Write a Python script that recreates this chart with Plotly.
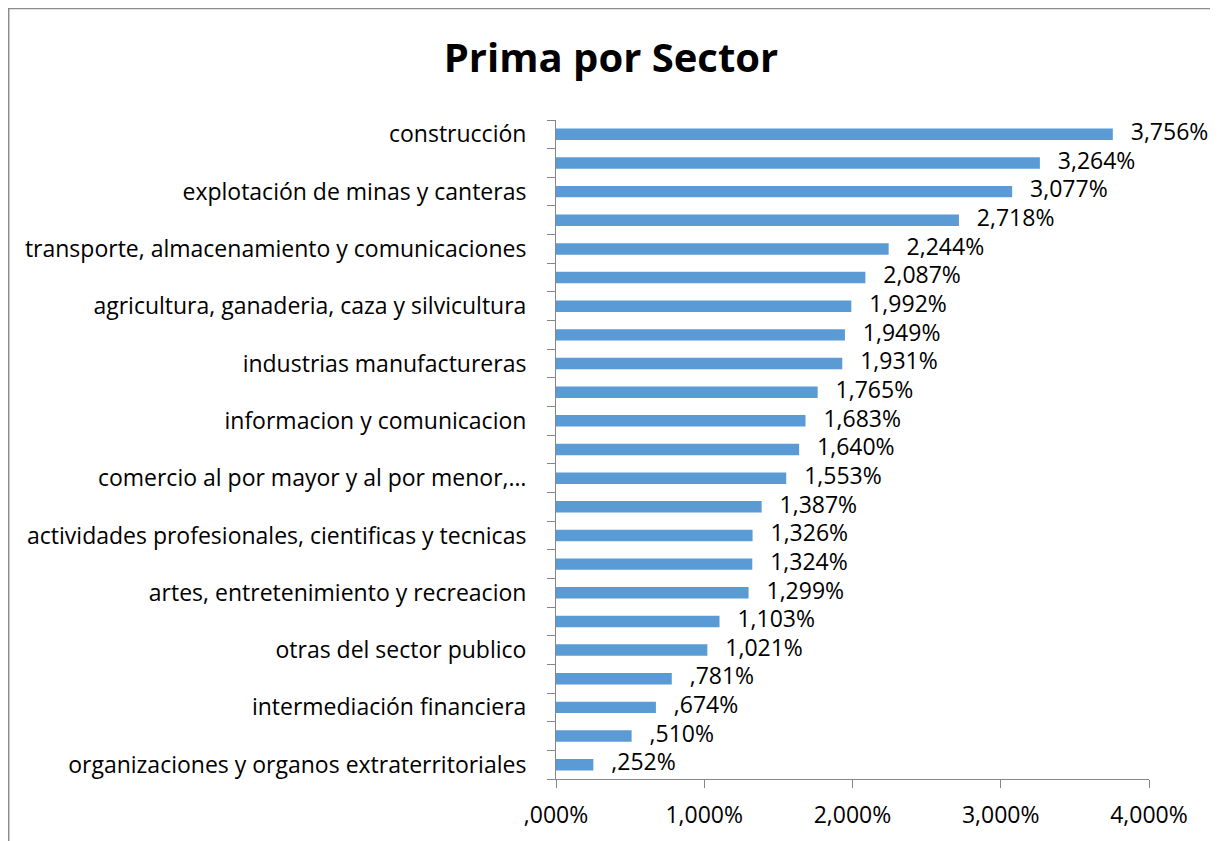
import plotly.graph_objects as go

labels = [
    "construcción", "", "explotación de minas y canteras", "",
    "transporte, almacenamiento y comunicaciones", "",
    "agricultura, ganaderia, caza y silvicultura", "",
    "industrias manufactureras", "", "informacion y comunicacion", "",
    "comercio al por mayor y al por menor,…", "",
    "actividades profesionales, cientificas y tecnicas", "",
    "artes, entretenimiento y recreacion", "", "otras del sector publico", "",
    "intermediación financiera", "", "organizaciones y organos extraterritoriales",
]
values = [3.756, 3.264, 3.077, 2.718, 2.244, 2.087, 1.992, 1.949, 1.931, 1.765,
          1.683, 1.640, 1.553, 1.387, 1.326, 1.324, 1.299, 1.103, 1.021, 0.781,
          0.674, 0.510, 0.252]
x_ticks = [0, 1, 2, 3, 4]
x_ticktext = [",000%", "1,000%", "2,000%", "3,000%", "4,000%"]


def fmt(v):
    s = f"{v:.3f}".replace(".", ",")
    if s.startswith("0"):
        s = s[1:]
    return s + "%"


pos = list(range(len(values)))
texts = [fmt(v) for v in values]
FONT = "Open Sans"
FS = 23
BLUE = "#5B9BD5"
GREY = "#868686"

fig = go.Figure()
fig.add_trace(go.Bar(
    x=values, y=pos, orientation="h", width=0.4,
    marker=dict(color=BLUE, line=dict(width=0)),
    hoverinfo="skip",
))
fig.add_trace(go.Scatter(
    x=values, y=pos, mode="text", text=["   " + t for t in texts],
    textposition="middle right",
    textfont=dict(family=FONT, size=FS, color="#000000"),
    cliponaxis=False, hoverinfo="skip",
))

OFF = 8  # page body margin
W, H = 1218 - OFF, 841 - OFF
L, R, T, B = 556 - OFF, 1148.7 - OFF, 120 - OFF, 779.3 - OFF
pw, ph = R - L, B - T

fig.update_layout(
    width=W, height=H,
    margin=dict(l=L, r=W - R, t=T, b=H - B, pad=0),
    paper_bgcolor="white", plot_bgcolor="white",
    showlegend=False,
    title=dict(text="<b>Prima por Sector</b>", x=(611 - OFF) / W, xanchor="center",
               y=1 - (58 - OFF) / H, yanchor="middle",
               font=dict(family=FONT, size=40, color="#000000")),
    font=dict(family=FONT, size=FS, color="#000000"),
    xaxis=dict(range=[0, 4], tickvals=x_ticks, ticktext=x_ticktext,
               showgrid=False, zeroline=False, showline=True, linecolor=GREY, linewidth=1,
               ticks="outside", ticklen=8, tickcolor=GREY, tickwidth=1,
               ticklabelstandoff=7,
               tickfont=dict(family=FONT, size=FS, color="#000000"), fixedrange=True),
    yaxis=dict(range=[len(values) - 0.5, -0.5], tickvals=pos, ticktext=labels,
               showgrid=False, zeroline=False, showline=True, linecolor=GREY, linewidth=1,
               ticks="", ticklabelstandoff=24,
               minor=dict(tick0=0.5, dtick=1, ticks="outside", ticklen=8,
                          tickcolor=GREY, tickwidth=1, showgrid=False),
               tickfont=dict(family=FONT, size=FS, color="#000000"), fixedrange=True),
    shapes=[dict(type="rect", xref="paper", yref="paper",
                 x0=(1 - L) / pw, x1=(1216 - OFF - L) / pw,
                 y0=(B - 860) / ph, y1=(B - 0.5) / ph,
                 line=dict(color="#8C8C8C", width=1.5), fillcolor="rgba(0,0,0,0)")],
)

fig.write_html("out.html")
